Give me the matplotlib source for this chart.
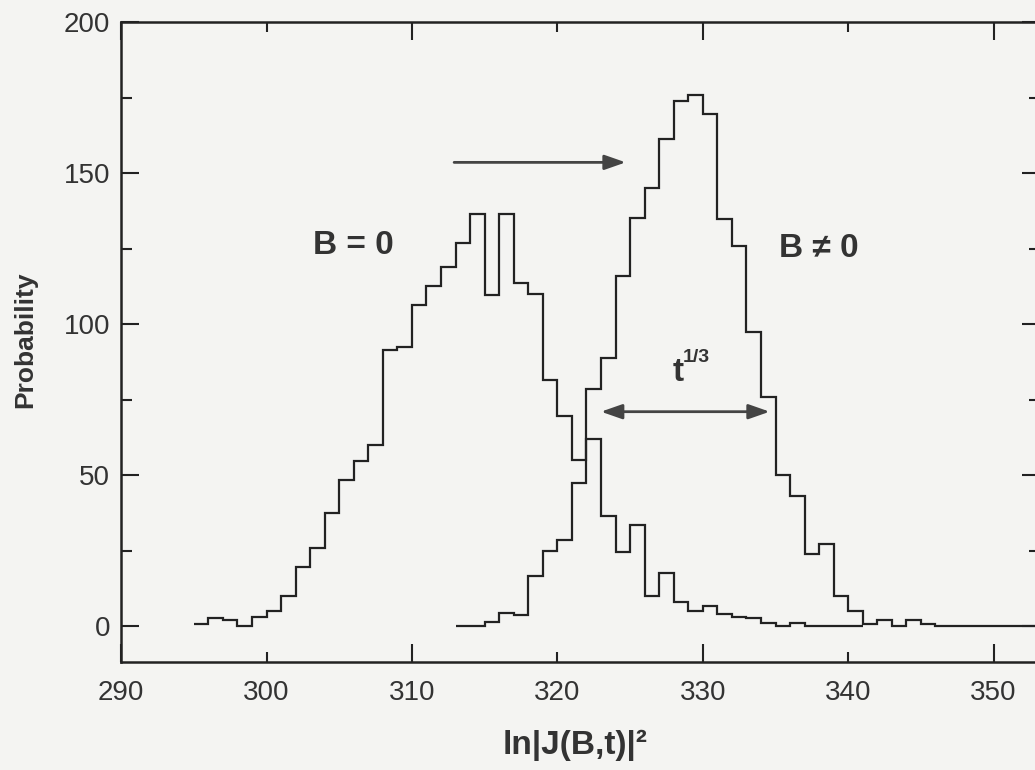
import numpy as np
import matplotlib.pyplot as plt

# histogram of ln|J(B,t)|^2, unit bins
b0_start = 295
b0_counts = [0.5, 2.5, 2, 0, 3, 5, 10, 19.5, 26, 37.5, 48.5, 54.5, 60, 91.5, 92.5,
             106.5, 112.5, 119, 127, 136.5, 109.5, 136.5, 113.5, 110, 81.5, 69.5,
             55, 62, 36.5, 24.5, 33.5, 10, 17.5, 8, 5, 6.5, 4, 3, 2.5, 1, 0, 1,
             0, 0, 0, 0]

bn_start = 313
bn_counts = [0, 0, 1.3, 4.4, 3.8, 16.4, 24.7, 28.5, 47.4, 78.4, 88.7, 116, 135.3,
             145, 161.3, 174, 176, 169.7, 134.8, 126, 97.5, 75.7, 50, 43, 24, 27,
             10, 5, 0.8, 2, 0, 2, 0.5, 0, 0, 0, 0, 0, 0, 0, 0, 0]

x_major = [290, 310, 330, 350]
x_minor = [300, 320, 340]
y_major = [0, 50, 100, 150, 200]
y_minor = [25, 75, 125, 175]

plt.rcParams['font.family'] = ['Liberation Sans', 'DejaVu Sans']
ink = '#222222'
txt = '#333333'
bg = '#f4f4f2'

fig = plt.figure(figsize=(10.35, 7.7), dpi=100, facecolor=bg)
ax = fig.add_axes([0.117, 0.140, 0.888, 0.831], facecolor=bg)

b0_edges = np.arange(len(b0_counts) + 1) + b0_start
bn_edges = np.arange(len(bn_counts) + 1) + bn_start
ax.stairs(b0_counts, b0_edges, baseline=None, color=ink, lw=1.6)
ax.stairs(bn_counts, bn_edges, baseline=None, color=ink, lw=1.6)

ax.set_xlim(290, 353.2)
ax.set_ylim(-12, 200)

# labels on every 10, long ticks every 20
ax.xaxis.set_major_locator(plt.FixedLocator(x_major))
ax.xaxis.set_minor_locator(plt.FixedLocator(x_minor))
ax.xaxis.set_major_formatter(plt.FuncFormatter(lambda v, p: f"{v:.0f}"))
ax.xaxis.set_minor_formatter(plt.FuncFormatter(lambda v, p: f"{v:.0f}"))
ax.set_yticks(y_major)
ax.set_yticks(y_minor, minor=True)

ax.tick_params(which='both', direction='in', top=True, right=True,
               colors=ink, labelcolor=txt, labelsize=20, width=1.5)
ax.tick_params(axis='x', which='major', length=13, pad=13)
ax.tick_params(axis='x', which='minor', length=7, pad=13)
ax.tick_params(axis='y', which='major', length=13, pad=8)
ax.tick_params(axis='y', which='minor', length=8)
for s in ax.spines.values():
    s.set_color(ink)
    s.set_linewidth(1.8)

# annotations
ax.annotate('', xy=(324.7, 153.6), xytext=(312.9, 153.6),
            arrowprops=dict(arrowstyle='-|>,head_length=0.8,head_width=0.28',
                            color='#444444', lw=2, mutation_scale=16,
                            shrinkA=0, shrinkB=0))
ax.annotate('', xy=(334.6, 71), xytext=(323.0, 71),
            arrowprops=dict(arrowstyle='<|-|>,head_length=0.8,head_width=0.28',
                            color='#444444', lw=2, mutation_scale=16,
                            shrinkA=0, shrinkB=0))
ax.text(305.95, 126, 'B = 0', fontsize=24, fontweight='bold', color=txt,
        ha='center', va='center')
ax.text(338.0, 125, 'B ≠ 0', fontsize=24, fontweight='bold', color=txt,
        ha='center', va='center')
ax.text(328.3, 84, 't', fontsize=24, fontweight='bold', color=txt,
        ha='center', va='center')
ax.text(328.65, 89, '1/3', fontsize=14, fontweight='bold', color=txt,
        ha='left', va='center')

fig.text(25 / 1035, 1 - 340 / 770, 'Probability', rotation=90, fontsize=19,
         fontweight='bold', color=txt, ha='center', va='center')
fig.text(575 / 1035, 1 - 745 / 770, 'ln|J(B,t)|²', fontsize=24,
         fontweight='bold', color=txt, ha='center', va='center')

fig.savefig('out.png', dpi=100, facecolor=bg)
